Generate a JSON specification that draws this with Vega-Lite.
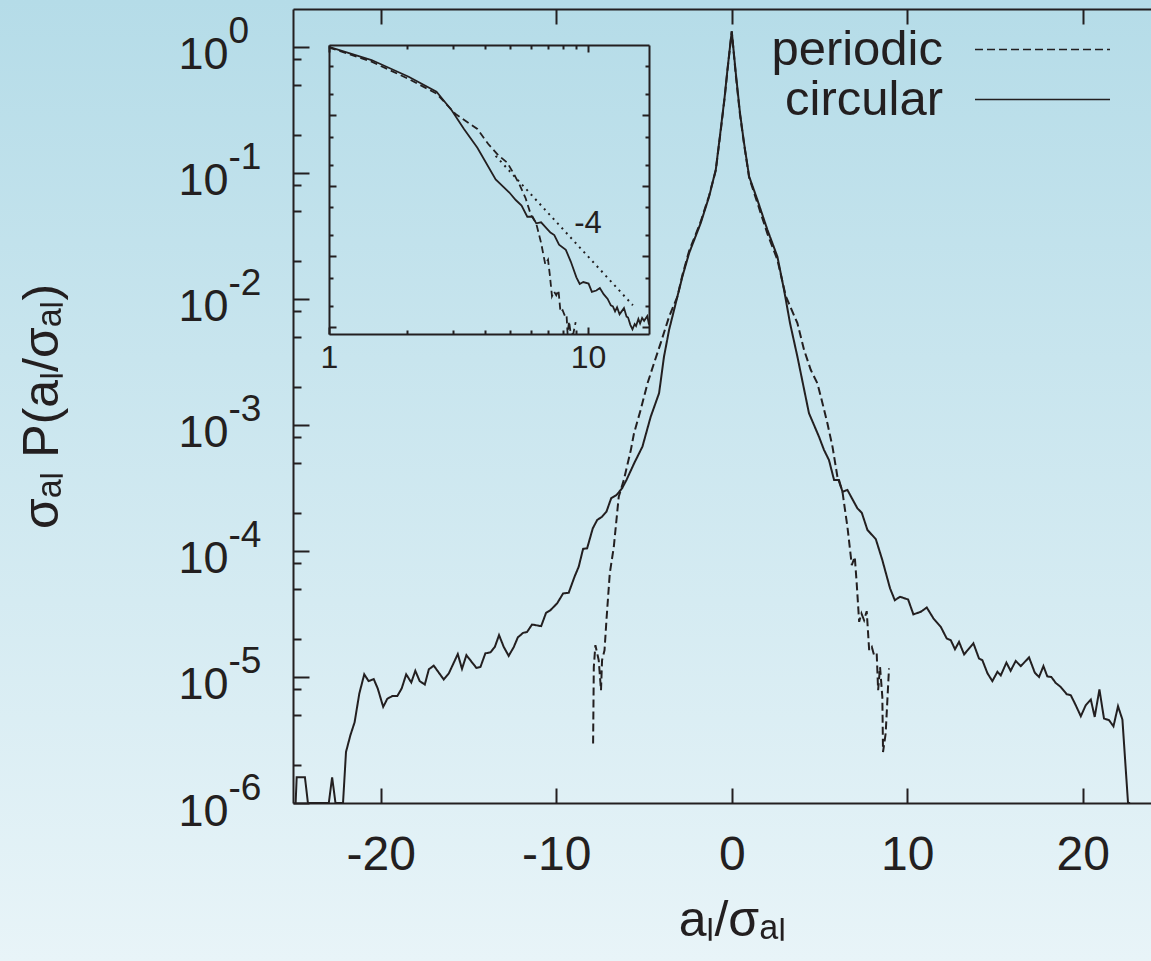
{
  "$schema": "https://vega.github.io/schema/vega-lite/v6.json",
  "width": 1151,
  "height": 961,
  "autosize": {"type": "none"},
  "padding": 0,
  "background": "#d2eaf1",
  "view": {
    "stroke": null,
    "fill": {"gradient": "linear", "x1": 0, "y1": 0, "x2": 0, "y2": 1,
      "stops": [{"offset": 0, "color": "#b5dce8"}, {"offset": 1, "color": "#e8f4f8"}]}
  },
  "config": {
    "font": "Liberation Sans",
    "view": {"stroke": null},
    "axis": {
      "grid": false,
      "labelFont": "Liberation Sans",
      "titleFont": "Liberation Sans",
      "titleFontWeight": "normal",
      "labelColor": "#231f20",
      "titleColor": "#231f20",
      "tickColor": "#231f20",
      "domainColor": "#231f20",
      "tickWidth": 2,
      "domainWidth": 2,
      "labelOverlap": false,
      "labelFlush": false,
      "maxExtent": 400
    }
  },
  "datasets": {
    "main": [
      {"s":"circular","a":-24.85,"p":1e-8},{"s":"circular","a":-24.79,"p":1.6e-6},{"s":"circular","a":-24.32,"p":1.6e-6},{"s":"circular","a":-24.15,"p":1e-8},
      {"s":"circular","a":-22.96,"p":1e-8},{"s":"circular","a":-22.77,"p":1.6e-6},{"s":"circular","a":-22.58,"p":1e-8},{"s":"circular","a":-22.15,"p":1e-8},
      {"s":"circular","a":-21.98,"p":2.54e-6},{"s":"circular","a":-21.73,"p":3.45e-6},{"s":"circular","a":-21.49,"p":4.37e-6},{"s":"circular","a":-21.22,"p":7.41e-6},
      {"s":"circular","a":-20.94,"p":1.05e-5},{"s":"circular","a":-20.69,"p":9.27e-6},{"s":"circular","a":-20.40,"p":9.62e-6},{"s":"circular","a":-20.17,"p":8.09e-6},
      {"s":"circular","a":-19.86,"p":5.79e-6},{"s":"circular","a":-19.63,"p":6.70e-6},{"s":"circular","a":-19.35,"p":7.05e-6},{"s":"circular","a":-19.06,"p":7.05e-6},
      {"s":"circular","a":-18.81,"p":8.09e-6},{"s":"circular","a":-18.55,"p":1.05e-5},{"s":"circular","a":-18.26,"p":9.04e-6},{"s":"circular","a":-18.03,"p":1.12e-5},
      {"s":"circular","a":-17.78,"p":9.27e-6},{"s":"circular","a":-17.49,"p":8.71e-6},{"s":"circular","a":-17.26,"p":1.15e-5},{"s":"circular","a":-16.98,"p":1.23e-5},
      {"s":"circular","a":-16.41,"p":9.55e-6},{"s":"circular","a":-16.12,"p":1.07e-5},{"s":"circular","a":-15.61,"p":1.52e-5},{"s":"circular","a":-15.37,"p":1.16e-5},
      {"s":"circular","a":-15.12,"p":1.49e-5},{"s":"circular","a":-14.55,"p":1.18e-5},{"s":"circular","a":-14.32,"p":1.20e-5},{"s":"circular","a":-14.04,"p":1.54e-5},
      {"s":"circular","a":-13.75,"p":1.57e-5},{"s":"circular","a":-13.50,"p":1.73e-5},{"s":"circular","a":-13.26,"p":2.15e-5},{"s":"circular","a":-12.99,"p":1.73e-5},
      {"s":"circular","a":-12.71,"p":1.47e-5},{"s":"circular","a":-12.42,"p":1.73e-5},{"s":"circular","a":-12.19,"p":2.06e-5},{"s":"circular","a":-11.89,"p":2.24e-5},
      {"s":"circular","a":-11.66,"p":2.28e-5},{"s":"circular","a":-11.38,"p":2.61e-5},{"s":"circular","a":-10.86,"p":2.53e-5},{"s":"circular","a":-10.58,"p":3.23e-5},
      {"s":"circular","a":-10.33,"p":3.39e-5},{"s":"circular","a":-9.95,"p":3.84e-5},{"s":"circular","a":-9.61,"p":4.60e-5},{"s":"circular","a":-9.29,"p":4.66e-5},
      {"s":"circular","a":-8.96,"p":6.24e-5},{"s":"circular","a":-8.72,"p":7.50e-5},{"s":"circular","a":-8.47,"p":1.04e-4},{"s":"circular","a":-8.24,"p":1.05e-4},
      {"s":"circular","a":-7.92,"p":1.51e-4},{"s":"circular","a":-7.67,"p":1.76e-4},{"s":"circular","a":-7.39,"p":1.87e-4},{"s":"circular","a":-7.14,"p":2.05e-4},
      {"s":"circular","a":-6.87,"p":2.62e-4},{"s":"circular","a":-6.57,"p":2.78e-4},{"s":"circular","a":-6.25,"p":3.14e-4},{"s":"circular","a":-6.00,"p":3.66e-4},
      {"s":"circular","a":-5.55,"p":5.0e-4},{"s":"circular","a":-5.09,"p":6.73e-4},{"s":"circular","a":-4.62,"p":1.16e-3},{"s":"circular","a":-4.14,"p":1.79e-3},
      {"s":"circular","a":-3.86,"p":3.49e-3},{"s":"circular","a":-3.57,"p":5.69e-3},{"s":"circular","a":-3.19,"p":9.27e-3},{"s":"circular","a":-2.81,"p":1.51e-2},
      {"s":"circular","a":-2.43,"p":2.31e-2},{"s":"circular","a":-1.77,"p":4.00e-2},{"s":"circular","a":-1.29,"p":6.50e-2},{"s":"circular","a":-0.91,"p":0.106},
      {"s":"circular","a":-0.63,"p":0.220},{"s":"circular","a":-0.40,"p":0.407},{"s":"circular","a":-0.245,"p":0.661},{"s":"circular","a":0,"p":1.33},
      {"s":"circular","a":0.23,"p":0.621},{"s":"circular","a":0.47,"p":0.299},{"s":"circular","a":0.70,"p":0.173},{"s":"circular","a":0.99,"p":0.0938},
      {"s":"circular","a":1.46,"p":0.0612},{"s":"circular","a":2.03,"p":0.0354},{"s":"circular","a":2.60,"p":0.0217},{"s":"circular","a":2.98,"p":0.0118},
      {"s":"circular","a":3.32,"p":6.43e-3},{"s":"circular","a":3.74,"p":3.49e-3},{"s":"circular","a":4.40,"p":1.24e-3},{"s":"circular","a":4.97,"p":8.07e-4},
      {"s":"circular","a":5.26,"p":6.32e-4},{"s":"circular","a":5.54,"p":5.27e-4},{"s":"circular","a":5.83,"p":3.66e-4},{"s":"circular","a":6.11,"p":3.66e-4},
      {"s":"circular","a":6.31,"p":2.95e-4},{"s":"circular","a":6.59,"p":3.05e-4},{"s":"circular","a":7.16,"p":2.18e-4},{"s":"circular","a":7.41,"p":2.01e-4},
      {"s":"circular","a":7.73,"p":1.47e-4},{"s":"circular","a":8.21,"p":1.24e-4},{"s":"circular","a":8.58,"p":8.47e-5},{"s":"circular","a":9.02,"p":5.05e-5},
      {"s":"circular","a":9.29,"p":4.07e-5},{"s":"circular","a":9.59,"p":4.33e-5},{"s":"circular","a":10.05,"p":4.12e-5},{"s":"circular","a":10.35,"p":3.14e-5},
      {"s":"circular","a":10.77,"p":3.29e-5},{"s":"circular","a":11.11,"p":3.56e-5},{"s":"circular","a":11.49,"p":2.92e-5},{"s":"circular","a":11.91,"p":2.50e-5},
      {"s":"circular","a":12.25,"p":2.02e-5},{"s":"circular","a":12.48,"p":1.96e-5},{"s":"circular","a":12.72,"p":1.66e-5},{"s":"circular","a":12.95,"p":1.90e-5},
      {"s":"circular","a":13.24,"p":1.51e-5},{"s":"circular","a":13.77,"p":1.85e-5},{"s":"circular","a":14.09,"p":1.40e-5},{"s":"circular","a":14.28,"p":1.36e-5},
      {"s":"circular","a":14.57,"p":1.07e-5},{"s":"circular","a":14.85,"p":9.27e-6},{"s":"circular","a":15.14,"p":1.10e-5},{"s":"circular","a":15.33,"p":1.03e-5},
      {"s":"circular","a":15.65,"p":1.30e-5},{"s":"circular","a":15.89,"p":1.12e-5},{"s":"circular","a":16.18,"p":1.34e-5},{"s":"circular","a":16.47,"p":1.22e-5},
      {"s":"circular","a":16.94,"p":1.43e-5},{"s":"circular","a":17.27,"p":1.08e-5},{"s":"circular","a":17.51,"p":1.00e-5},{"s":"circular","a":17.76,"p":1.22e-5},
      {"s":"circular","a":17.98,"p":1.01e-5},{"s":"circular","a":18.21,"p":1.00e-5},{"s":"circular","a":18.46,"p":8.97e-6},{"s":"circular","a":18.74,"p":8.34e-6},
      {"s":"circular","a":19.09,"p":7.29e-6},{"s":"circular","a":19.32,"p":7.16e-6},{"s":"circular","a":19.60,"p":5.97e-6},{"s":"circular","a":19.89,"p":4.88e-6},
      {"s":"circular","a":20.17,"p":5.97e-6},{"s":"circular","a":20.46,"p":6.62e-6},{"s":"circular","a":20.68,"p":4.82e-6},{"s":"circular","a":20.95,"p":7.96e-6},
      {"s":"circular","a":21.21,"p":4.68e-6},{"s":"circular","a":21.50,"p":4.54e-6},{"s":"circular","a":21.75,"p":4.06e-6},{"s":"circular","a":22.01,"p":5.86e-6},
      {"s":"circular","a":22.26,"p":4.59e-6},{"s":"circular","a":22.58,"p":1e-6},{"s":"circular","a":22.7,"p":1e-8},
      {"s":"periodic","a":-7.90,"p":2.96e-6},{"s":"periodic","a":-7.86,"p":1.20e-5},{"s":"periodic","a":-7.77,"p":1.79e-5},{"s":"periodic","a":-7.58,"p":1.36e-5},
      {"s":"periodic","a":-7.45,"p":7.85e-6},{"s":"periodic","a":-7.39,"p":1.36e-5},{"s":"periodic","a":-7.25,"p":1.63e-5},{"s":"periodic","a":-7.14,"p":2.82e-5},
      {"s":"periodic","a":-6.95,"p":6.64e-5},{"s":"periodic","a":-6.72,"p":1.08e-4},{"s":"periodic","a":-6.44,"p":2.69e-4},{"s":"periodic","a":-6.15,"p":3.66e-4},
      {"s":"periodic","a":-5.75,"p":6.32e-4},{"s":"periodic","a":-5.57,"p":8.59e-4},{"s":"periodic","a":-5.19,"p":1.32e-3},{"s":"periodic","a":-4.80,"p":2.14e-3},
      {"s":"periodic","a":-4.43,"p":3.09e-3},{"s":"periodic","a":-4.05,"p":4.46e-3},{"s":"periodic","a":-3.57,"p":7.24e-3},{"s":"periodic","a":-3.09,"p":1.05e-2},
      {"s":"periodic","a":-2.81,"p":1.55e-2},{"s":"periodic","a":-2.43,"p":2.40e-2},{"s":"periodic","a":-1.77,"p":4.10e-2},{"s":"periodic","a":-1.29,"p":6.60e-2},
      {"s":"periodic","a":-0.91,"p":0.105},{"s":"periodic","a":-0.63,"p":0.215},{"s":"periodic","a":-0.40,"p":0.40},{"s":"periodic","a":-0.245,"p":0.65},
      {"s":"periodic","a":0,"p":1.33},{"s":"periodic","a":0.23,"p":0.60},{"s":"periodic","a":0.47,"p":0.29},{"s":"periodic","a":0.70,"p":0.17},
      {"s":"periodic","a":0.99,"p":0.092},{"s":"periodic","a":1.46,"p":0.058},{"s":"periodic","a":2.03,"p":0.033},{"s":"periodic","a":2.60,"p":0.0205},
      {"s":"periodic","a":3.08,"p":1.05e-2},{"s":"periodic","a":3.74,"p":6.43e-3},{"s":"periodic","a":4.12,"p":3.94e-3},{"s":"periodic","a":4.50,"p":2.74e-3},
      {"s":"periodic","a":4.88,"p":2.14e-3},{"s":"periodic","a":5.17,"p":1.49e-3},{"s":"periodic","a":5.45,"p":1.03e-3},{"s":"periodic","a":5.74,"p":6.73e-4},
      {"s":"periodic","a":6.02,"p":3.89e-4},{"s":"periodic","a":6.31,"p":2.95e-4},{"s":"periodic","a":6.40,"p":2.39e-4},{"s":"periodic","a":6.59,"p":1.56e-4},
      {"s":"periodic","a":6.84,"p":7.73e-5},{"s":"periodic","a":7.01,"p":8.99e-5},{"s":"periodic","a":7.12,"p":5.53e-5},{"s":"periodic","a":7.26,"p":2.74e-5},
      {"s":"periodic","a":7.39,"p":3.19e-5},{"s":"periodic","a":7.54,"p":2.82e-5},{"s":"periodic","a":7.69,"p":3.33e-5},{"s":"periodic","a":7.83,"p":1.63e-5},
      {"s":"periodic","a":7.98,"p":1.73e-5},{"s":"periodic","a":8.11,"p":1.49e-5},{"s":"periodic","a":8.26,"p":1.54e-5},{"s":"periodic","a":8.34,"p":7.85e-6},
      {"s":"periodic","a":8.45,"p":1.20e-5},{"s":"periodic","a":8.58,"p":6.95e-6},{"s":"periodic","a":8.62,"p":2.54e-6},{"s":"periodic","a":8.77,"p":3.56e-6},
      {"s":"periodic","a":8.96,"p":1.17e-5}
    ],
    "ref": [{"a": 4.4, "p": 0.00267}, {"a": 14.9, "p": 0.0000203}],
    "ann": [{"a": 10, "p": 0.00029, "t": "-4"}]
  },
  "layer": [
    {
      "data": {"name": "main"},
      "mark": {"type": "line", "strokeWidth": 2, "color": "#231f20"},
      "encoding": {
        "x": {"field": "a", "type": "quantitative",
          "scale": {"domain": [-25, 25], "range": [293, 1170.5], "nice": false, "zero": false, "clamp": true},
          "axis": {"orient": "bottom", "offset": -158, "values": [-20, -10, 0, 10, 20],
            "labelExpr": "'' + datum.value",
            "tickSize": -15, "labelFontSize": 48, "labelPadding": 43,
            "title": "aₗ/σₐₗ", "titleFontSize": 50, "titlePadding": 16}},
        "y": {"field": "p", "type": "quantitative",
          "scale": {"type": "log", "domain": [1e-6, 2], "range": [803, 9], "nice": false, "clamp": true},
          "axis": {"orient": "left", "offset": -293, "values": [1e-6, 1e-5, 1e-4, 1e-3, 1e-2, 1e-1, 1],
            "labelExpr": "'10'", "tickSize": -16, "labelFontSize": 45,
            "labelAlign": "right", "labelBaseline": "middle", "labelPadding": 81, "labelOffset": 8,
            "title": "σₐₗ P(aₗ/σₐₗ)", "titleFontSize": 50, "titlePadding": 110}},
        "strokeDash": {"field": "s", "type": "nominal",
          "scale": {"domain": ["periodic", "circular"], "range": [[8, 4], [1, 0]]},
          "legend": {"orient": "none", "legendX": 973, "legendY": 25, "title": null,
            "symbolType": "M-4,0H4", "symbolSize": 1139, "symbolStrokeWidth": 1.5,
            "symbolStrokeColor": "#231f20", "symbolFillColor": "transparent", "symbolOffset": 45,
            "labelFontSize": 49, "labelColor": "#231f20",
            "labelAlign": "right", "labelOffset": -124, "labelLimit": 500,
            "rowPadding": 0, "padding": 0}}
      }
    },
    {
      "data": {"values": []},
      "mark": "point",
      "encoding": {
        "x": {"field": "a", "type": "quantitative",
          "scale": {"domain": [-25, 25], "range": [293, 1170.5], "nice": false, "zero": false},
          "axis": {"orient": "top", "offset": -9, "values": [-20, -10, 0, 10, 20], "labels": false,
            "tickSize": -15, "title": null}},
        "y": {"field": "p", "type": "quantitative",
          "scale": {"type": "log", "domain": [1e-6, 2], "range": [803, 9], "nice": false},
          "axis": {"orient": "left", "offset": -293, "values": [1e-6, 1e-5, 1e-4, 1e-3, 1e-2, 1e-1, 1],
            "labelExpr": "datum.value > 0.5 ? '0' : '' + round(log(datum.value) / LN10)",
            "ticks": false, "domain": false, "labelFontSize": 37,
            "labelAlign": "left", "labelBaseline": "middle", "labelPadding": 65, "labelOffset": -15,
            "title": null}}
      }
    },
    {
      "data": {"values": []},
      "mark": "point",
      "encoding": {
        "x": {"field": "a", "type": "quantitative",
          "scale": {"domain": [-25, 25], "range": [293, 1170.5], "nice": false, "zero": false}, "axis": null},
        "y": {"field": "p", "type": "quantitative",
          "scale": {"type": "log", "domain": [1e-6, 2], "range": [803, 9], "nice": false},
          "axis": {"orient": "left", "offset": -293,
            "values": [0.8, 0.5, 0.2, 0.08, 0.05, 0.02, 0.008, 0.005, 0.002, 8e-4, 5e-4, 2e-4, 8e-5, 5e-5, 2e-5, 8e-6, 5e-6, 2e-6],
            "labels": false, "domain": false, "tickSize": -8, "title": null}}
      }
    },
    {
      "data": {"name": "main"},
      "transform": [{"filter": "datum.s == 'periodic' && datum.a >= 0.9"}],
      "mark": {"type": "line", "strokeDash": [7, 4], "strokeWidth": 1.8, "color": "#231f20"},
      "encoding": {
        "x": {"field": "a", "type": "quantitative",
          "scale": {"type": "log", "domain": [1, 17.2], "range": [329, 649], "nice": false, "clamp": true},
          "axis": {"orient": "bottom", "offset": -627, "values": [1, 10], "format": "d", "tickSize": -7,
            "labelFontSize": 32, "labelPadding": 15, "title": null}},
        "y": {"field": "p", "type": "quantitative",
          "scale": {"type": "log", "domain": [7.94e-6, 0.1], "range": [334, 45], "nice": false, "clamp": true},
          "axis": {"orient": "left", "offset": -329, "values": [1e-5, 1e-4, 1e-3, 1e-2], "labels": false,
            "tickSize": -7, "title": null}}
      }
    },
    {
      "data": {"name": "main"},
      "transform": [{"filter": "datum.s == 'circular' && datum.a >= 0.9 && datum.a <= 17.3"}],
      "mark": {"type": "line", "strokeWidth": 1.8, "color": "#231f20"},
      "encoding": {
        "x": {"field": "a", "type": "quantitative",
          "scale": {"type": "log", "domain": [1, 17.2], "range": [329, 649], "nice": false, "clamp": true},
          "axis": {"orient": "top", "offset": -45, "values": [1, 10], "labels": false, "tickSize": -7, "title": null}},
        "y": {"field": "p", "type": "quantitative",
          "scale": {"type": "log", "domain": [7.94e-6, 0.1], "range": [334, 45], "nice": false, "clamp": true},
          "axis": {"orient": "right", "offset": -502, "values": [1e-5, 1e-4, 1e-3, 1e-2], "labels": false,
            "tickSize": -7, "title": null}}
      }
    },
    {
      "data": {"name": "ref"},
      "mark": {"type": "line", "strokeDash": [2, 4.5], "strokeWidth": 2, "color": "#231f20"},
      "encoding": {
        "x": {"field": "a", "type": "quantitative",
          "scale": {"type": "log", "domain": [1, 17.2], "range": [329, 649], "nice": false},
          "axis": {"orient": "bottom", "offset": -627, "values": [2, 3, 4, 5, 6, 7, 8, 9], "labels": false,
            "domain": false, "tickSize": -4, "title": null}},
        "y": {"field": "p", "type": "quantitative",
          "scale": {"type": "log", "domain": [7.94e-6, 0.1], "range": [334, 45], "nice": false},
          "axis": {"orient": "left", "offset": -329, "values": [0.05, 0.02, 0.005, 0.002, 5e-4, 2e-4, 5e-5, 2e-5],
            "labels": false, "domain": false, "tickSize": -4, "title": null}}
      }
    },
    {
      "data": {"name": "ann"},
      "mark": {"type": "text", "fontSize": 31, "color": "#231f20", "align": "center", "baseline": "middle"},
      "encoding": {
        "text": {"field": "t"},
        "x": {"field": "a", "type": "quantitative",
          "scale": {"type": "log", "domain": [1, 17.2], "range": [329, 649], "nice": false},
          "axis": {"orient": "top", "offset": -45, "values": [2, 3, 4, 5, 6, 7, 8, 9], "labels": false,
            "domain": false, "tickSize": -4, "title": null}},
        "y": {"field": "p", "type": "quantitative",
          "scale": {"type": "log", "domain": [7.94e-6, 0.1], "range": [334, 45], "nice": false},
          "axis": {"orient": "right", "offset": -502, "values": [0.05, 0.02, 0.005, 0.002, 5e-4, 2e-4, 5e-5, 2e-5],
            "labels": false, "domain": false, "tickSize": -4, "title": null}}
      }
    }
  ],
  "resolve": {
    "scale": {"x": "independent", "y": "independent"},
    "axis": {"x": "independent", "y": "independent"}
  }
}
